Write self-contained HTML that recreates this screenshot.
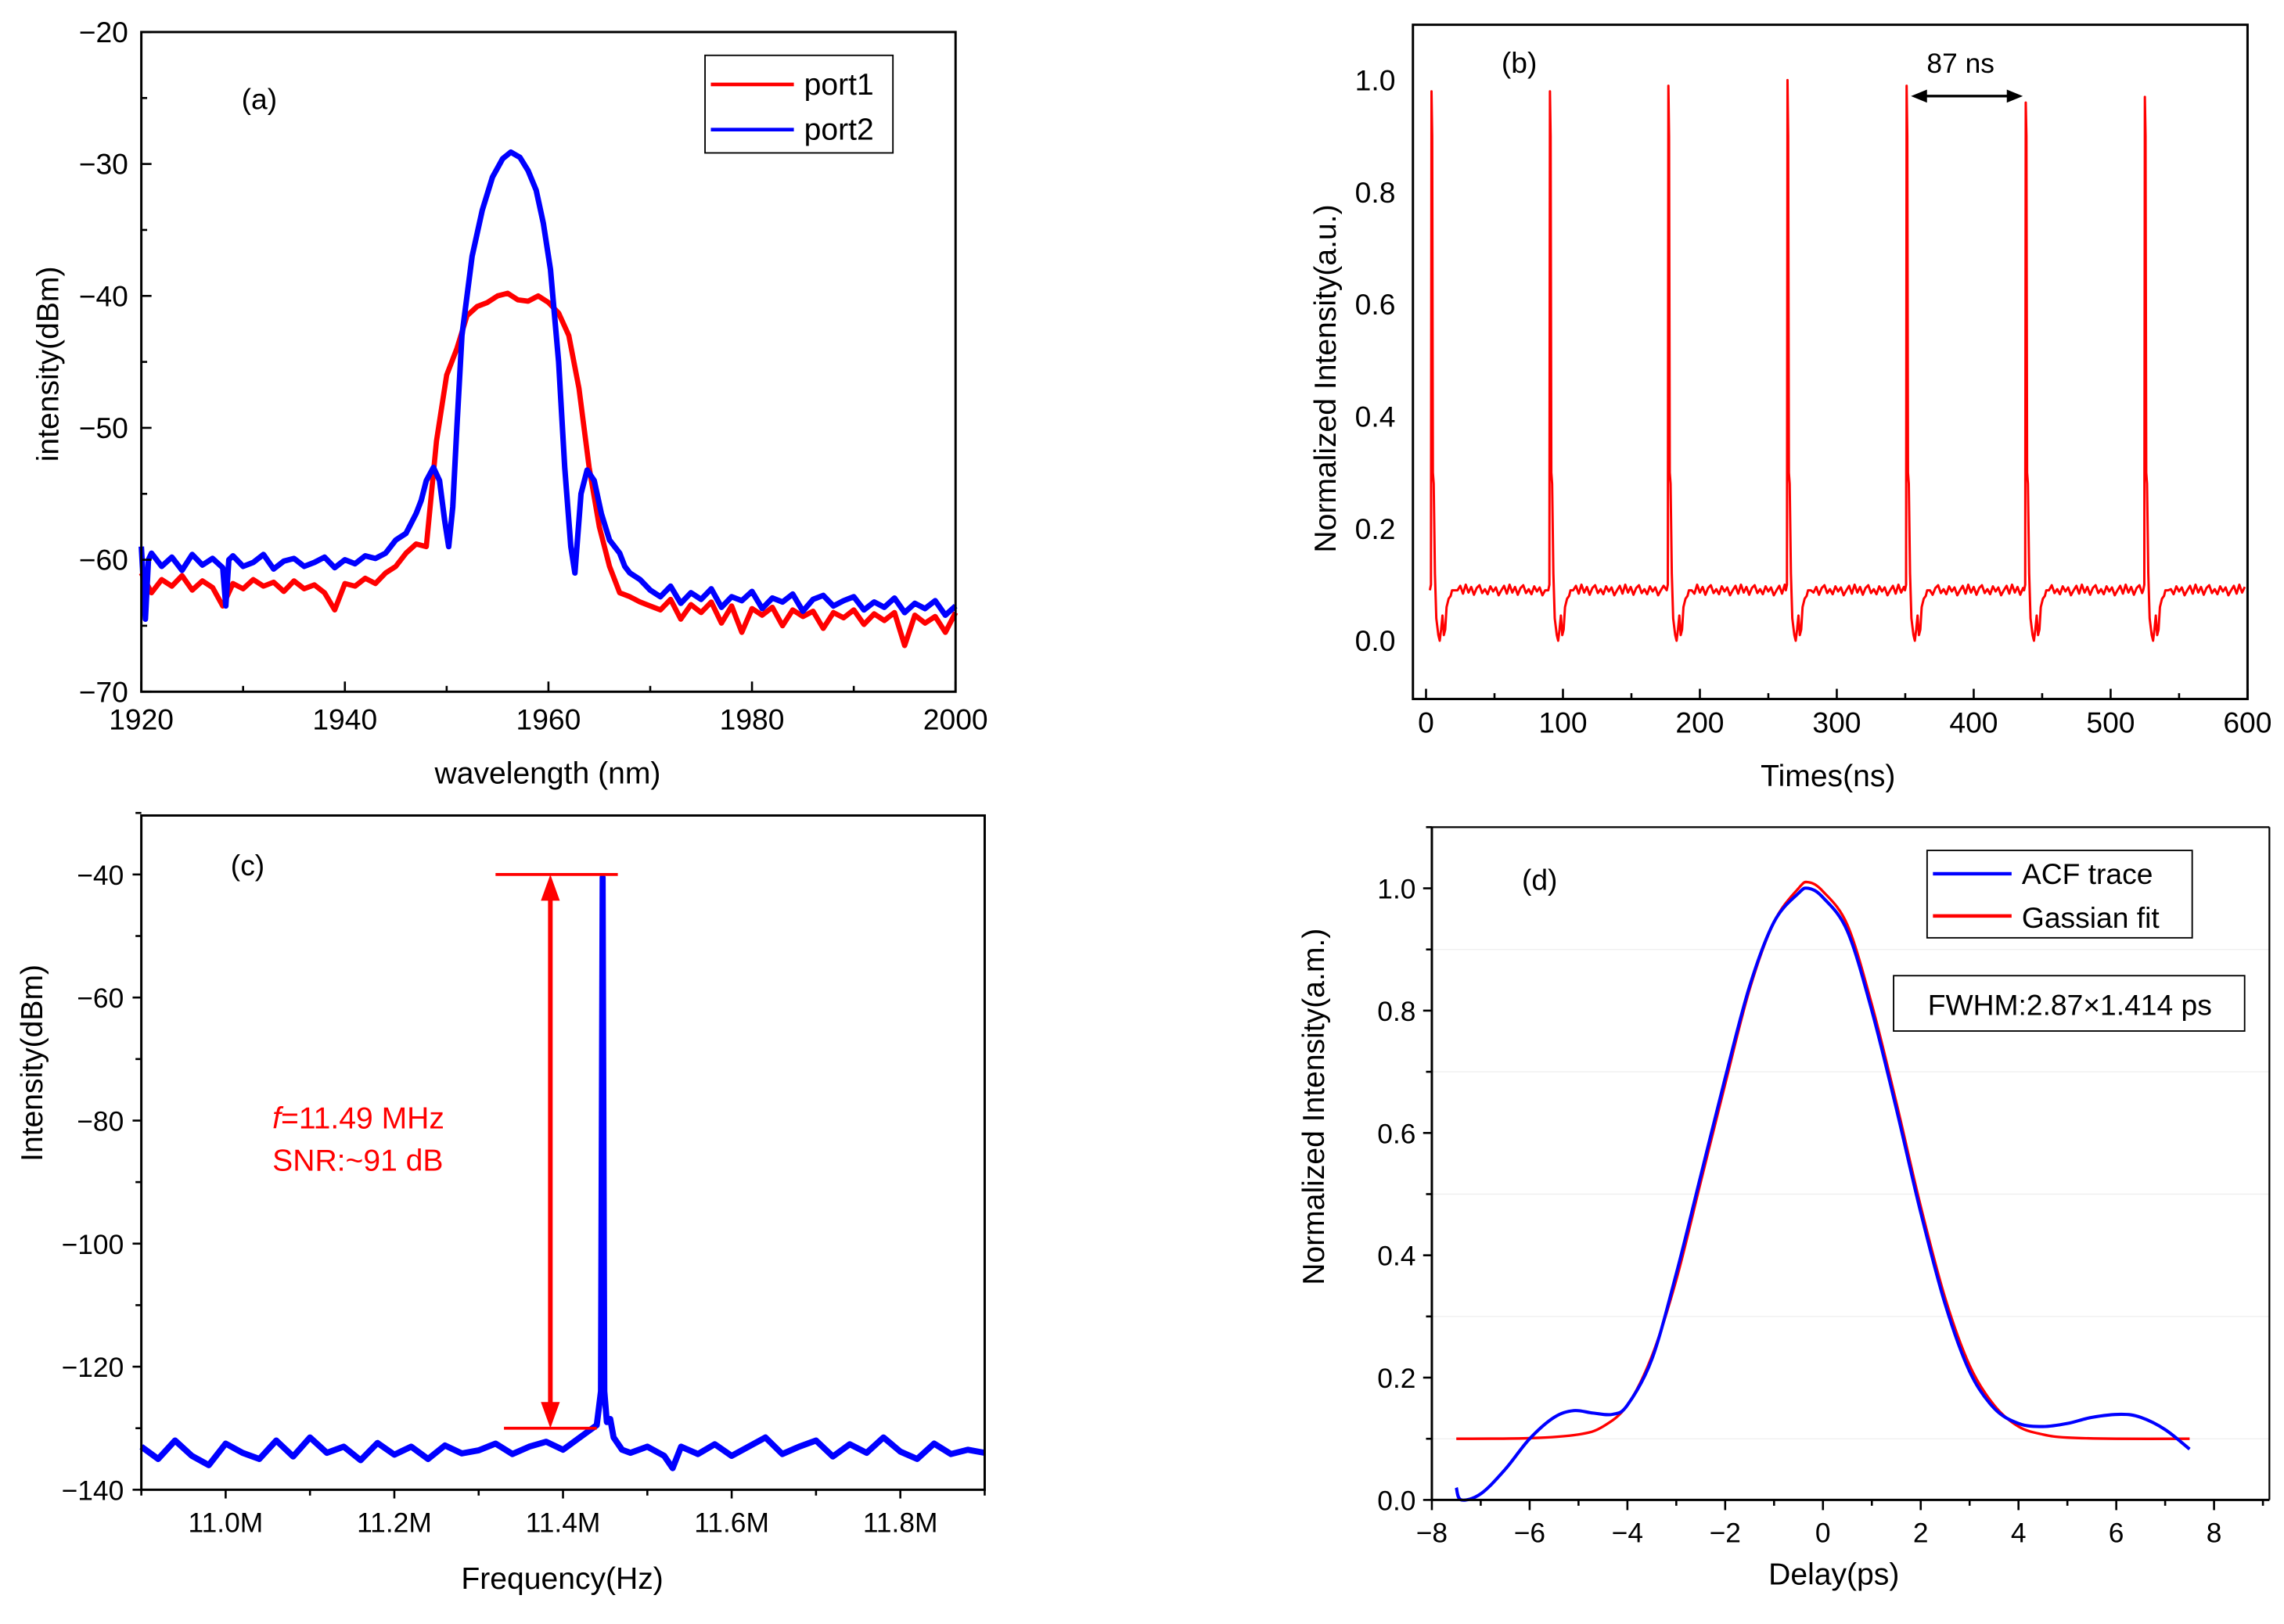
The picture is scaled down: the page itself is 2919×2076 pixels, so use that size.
<!DOCTYPE html>
<html><head><meta charset="utf-8"><style>
html,body{margin:0;padding:0;background:#fff}
svg{display:block;font-family:"Liberation Sans",Arial,sans-serif}
</style></head><body>
<svg id="fig" xmlns="http://www.w3.org/2000/svg" width="2919" height="2076" viewBox="0 0 1568 1115.2">
<rect width="1568" height="1115.2" fill="#fff"/>
</svg>
<script>
// ---------- Panel (a) data ----------
const port2Wl=[1920,1920.4,1920.7,1921,1922,1923,1924,1925,1926,1927,1928,1928.3,1928.6,1929,1930,1931,1932,1933,1934,1935,1936,1937,1938,1939,1940,1941,1942,1943,1944,1945,1946,1947,1947.5,1948,1948.7,1949.3,1949.8,1950.2,1950.6,1951,1951.5,1952.5,1953.5,1954.5,1955.5,1956.3,1957.2,1958,1958.8,1959.5,1960.2,1961,1961.6,1962.2,1962.6,1963.2,1963.8,1964.5,1965.2,1966,1966.5,1967,1967.5,1968,1969,1970,1971,1972,1973,1974,1975,1976,1977,1978,1979,1980,1981,1982,1983,1984,1985,1986,1987,1988,1989,1990,1991,1992,1993,1994,1995,1996,1997,1998,1999,2000];
const port2Db=[-59,-64.5,-60,-59.5,-60.5,-59.8,-60.8,-59.6,-60.4,-59.9,-60.6,-63.5,-60,-59.7,-60.5,-60.2,-59.6,-60.7,-60.1,-59.9,-60.5,-60.2,-59.8,-60.6,-60,-60.3,-59.7,-59.9,-59.5,-58.5,-58,-56.5,-55.5,-54,-53,-54,-57,-59,-56,-50,-43,-37,-33.5,-31,-29.6,-29.1,-29.5,-30.5,-32,-34.5,-38,-45,-53,-59,-61,-55,-53.2,-54,-56.5,-58.5,-59,-59.5,-60.5,-61,-61.5,-62.3,-62.8,-62,-63.3,-62.5,-63,-62.2,-63.6,-62.8,-63.1,-62.4,-63.7,-62.9,-63.2,-62.6,-63.9,-63,-62.7,-63.5,-63.1,-62.8,-63.8,-63.2,-63.6,-62.9,-64,-63.3,-63.7,-63.1,-64.2,-63.5];
const port1Wl=[1920,1921,1922,1923,1924,1925,1926,1927,1928,1929,1930,1931,1932,1933,1934,1935,1936,1937,1938,1939,1940,1941,1942,1943,1944,1945,1946,1947,1948,1949,1950,1951,1952,1953,1954,1955,1956,1957,1958,1959,1960,1961,1962,1963,1964,1965,1966,1967,1968,1969,1970,1971,1972,1973,1974,1975,1976,1977,1978,1979,1980,1981,1982,1983,1984,1985,1986,1987,1988,1989,1990,1991,1992,1993,1994,1995,1996,1997,1998,1999,2000];
const port1Db=[-61,-62.5,-61.5,-62,-61.2,-62.3,-61.6,-62.1,-63.5,-61.8,-62.2,-61.5,-62,-61.7,-62.4,-61.6,-62.2,-61.9,-62.5,-63.8,-61.8,-62,-61.4,-61.8,-61,-60.5,-59.5,-58.8,-59,-51,-46,-44,-41.5,-40.8,-40.5,-40,-39.8,-40.3,-40.4,-40,-40.5,-41.3,-43,-47,-53,-57.5,-60.5,-62.5,-62.8,-63.2,-63.5,-63.8,-63,-64.5,-63.4,-64,-63.2,-64.8,-63.5,-65.5,-63.7,-64.2,-63.6,-65,-63.8,-64.3,-63.9,-65.2,-64,-64.4,-63.8,-64.9,-64.1,-64.6,-64,-66.5,-64.2,-64.8,-64.3,-65.5,-64];
const aXTicks=[1920,1940,1960,1980,2000];
const aYTicks=[-20,-30,-40,-50,-60,-70];

// ---------- Panel (b) data ----------
const pulseTimes=[4,90.5,177,264,351,438,525];
const pulsePeaks=[0.98,0.98,0.99,1.0,0.99,0.96,0.97];
const tplDt=[-1.2,-0.4,0,0.5,1.0,1.6,2.5,3.5,5,6,7,8,9,10,11,12.5,14,15,17];
const tplVal=[0.09,0.1,1,0.9,0.3,0.28,0.12,0.04,0.01,0.0,0.02,0.045,0.01,0.02,0.06,0.075,0.08,0.09,0.09];
const baseNoise=[0,0.008,-0.006,0.01,-0.004,0.006,-0.008,0.004,0.009,-0.005,0.002,-0.007,0.007,-0.002,0.005,-0.009];
const bBaseline=0.09;
const bXTicks=[0,100,200,300,400,500,600];
const bYTicks=[0,0.2,0.4,0.6,0.8,1.0];

// ---------- Panel (c) data ----------
const cFreq=[10.9,10.92,10.94,10.96,10.98,11.0,11.02,11.04,11.06,11.08,11.1,11.12,11.14,11.16,11.18,11.2,11.22,11.24,11.26,11.28,11.3,11.32,11.34,11.36,11.38,11.4,11.42,11.43,11.44,11.445,11.447,11.449,11.452,11.456,11.46,11.47,11.48,11.5,11.52,11.53,11.54,11.56,11.58,11.6,11.62,11.64,11.66,11.68,11.7,11.72,11.74,11.76,11.78,11.8,11.82,11.84,11.86,11.88,11.9];
const cDb=[-133,-135,-132,-134.5,-136,-132.5,-134,-135,-132,-134.6,-131.5,-134,-133,-135.2,-132.4,-134.3,-133,-135,-132.8,-134.1,-133.6,-132.5,-134.2,-133,-132.2,-133.5,-131.5,-130.5,-129.5,-124,-40.5,-124,-129,-128.5,-131.5,-133.5,-134,-133,-134.5,-136.5,-133,-134.2,-132.6,-134.5,-133,-131.5,-134.2,-133,-132,-134.6,-132.6,-134,-131.5,-133.8,-135,-132.5,-134.2,-133.5,-134];
const cXTicks=[11.0,11.2,11.4,11.6,11.8];
const cYTicks=[-40,-60,-80,-100,-120,-140];
const cTopLevel=-40, cNoiseLevel=-130, cArrowFreq=11.385;

// ---------- Panel (d) data ----------
const acfX=[-7.5,-7.4,-7,-6.5,-6,-5.5,-5.1,-4.7,-4.3,-4,-3.5,-3,-2.5,-2,-1.5,-1,-0.5,-0.3,0,0.5,1,1.5,2,2.5,3,3.5,4,4.5,5,5.5,6.1,6.5,7,7.5];
const acfY=[0.02,0.0,0.01,0.05,0.1,0.135,0.146,0.142,0.14,0.155,0.23,0.37,0.53,0.69,0.84,0.945,0.992,1.0,0.985,0.93,0.8,0.64,0.47,0.32,0.21,0.15,0.125,0.12,0.125,0.135,0.14,0.135,0.115,0.083];
const fitX=[-7.5,-6,-5,-4.5,-4,-3.5,-3,-2.5,-2,-1.5,-1,-0.5,-0.3,0,0.5,1,1.5,2,2.5,3,3.5,4,4.5,5,6,7.5];
const fitY=[0.1,0.101,0.107,0.12,0.155,0.235,0.36,0.52,0.68,0.835,0.945,1.0,1.01,0.995,0.94,0.81,0.65,0.48,0.33,0.22,0.155,0.12,0.107,0.102,0.1,0.1];
const dXTicks=[-8,-6,-4,-2,0,2,4,6,8];
const dYTicks=[0,0.2,0.4,0.6,0.8,1.0];

// ---------- helpers ----------
const NS="http://www.w3.org/2000/svg";
const svg=document.getElementById('fig');
function mk(tag,attrs,parent){const e=document.createElementNS(NS,tag);for(const k in attrs)e.setAttribute(k,attrs[k]);(parent||svg).appendChild(e);return e;}
function txt(s,x,y,size,anchor,fill,parent){const t=mk('text',{x:x,y:y,'font-size':size,'text-anchor':anchor||'middle',fill:fill||'#000'},parent);t.textContent=s;return t;}
function lin(d0,d1,r0,r1){return v=>r0+(v-d0)*(r1-r0)/(d1-d0);}
function fmt(v,dec){let s=v.toFixed(dec);return s.replace('-','\u2212');}
function pathD(xs,ys,sx,sy){let d='';for(let i=0;i<Math.min(xs.length,ys.length);i++){d+=(i?'L':'M')+sx(xs[i]).toFixed(2)+','+sy(ys[i]).toFixed(2);}return d;}
function smoothD(xs,ys,sx,sy){const p=[];for(let i=0;i<Math.min(xs.length,ys.length);i++)p.push([sx(xs[i]),sy(ys[i])]);let d='M'+p[0][0]+','+p[0][1];for(let i=0;i<p.length-1;i++){const p0=p[i-1]||p[i],p1=p[i],p2=p[i+1],p3=p[i+2]||p2;const c1=[p1[0]+(p2[0]-p0[0])/6,p1[1]+(p2[1]-p0[1])/6],c2=[p2[0]-(p3[0]-p1[0])/6,p2[1]-(p3[1]-p1[1])/6];d+='C'+c1.join(',')+' '+c2.join(',')+' '+p2.join(',');}return d;}

function frame(g,L,T,R,B){const r=mk('rect',{x:L,y:T,width:R-L,height:B-T,fill:'none',stroke:'#000','stroke-width':1.6},g);}

// ================= Panel (a) =================
(function(){
const g=mk('g',{});
const L=97,R=656,T=22,B=475;
const sx=lin(1920,2000,L,R), sy=lin(-70,-20,B,T);
const red=mk('path',{d:pathD(port1Wl,port1Db,sx,sy),fill:'none',stroke:'#ff0000','stroke-width':3.6,'stroke-linejoin':'round'},g);

const blue=mk('path',{d:pathD(port2Wl,port2Db,sx,sy),fill:'none',stroke:'#0000ff','stroke-width':3.8,'stroke-linejoin':'round'},g);

frame(g,L,T,R,B);
for(let v=1920;v<=2000;v+=10){const x=sx(v);mk('line',{x1:x,y1:B,x2:x,y2:B-(v%20==0?7:4),stroke:'#000','stroke-width':1.4},g);}
for(let v=-70;v<=-20;v+=5){const y=sy(v);mk('line',{x1:L,y1:y,x2:L+(v%10==0?7:4),y2:y,stroke:'#000','stroke-width':1.4},g);}
aXTicks.forEach(v=>{const t=txt(String(v),sx(v),501,20,'middle','#000',g);});
aYTicks.forEach(v=>{const t=txt(fmt(v,0),88,sy(v)+7,20,'end','#000',g);});
const xt=txt('wavelength (nm)',376,538,21,'middle','#000',g);
const yt=txt('intensity(dBm)',0,0,21,'middle','#000',g);yt.setAttribute('transform','translate(40,250) rotate(-90)');
const pl=txt('(a)',178,75,20,'middle','#000',g);
const lg=mk('g',{},g);
mk('rect',{x:484,y:38,width:129,height:67,fill:'#fff',stroke:'#000','stroke-width':1},lg);
const e1=mk('line',{x1:488,y1:58,x2:545,y2:58,stroke:'#ff0000','stroke-width':2.5},lg);
txt('port1',552,65,21,'start','#000',lg);
const e2=mk('line',{x1:488,y1:89,x2:545,y2:89,stroke:'#0000ff','stroke-width':2.5},lg);
txt('port2',552,96,21,'start','#000',lg);
})();

// ================= Panel (b) =================
(function(){
const g=mk('g',{});
const L=970,R=1543,T=17,B=480;
const sx=lin(0,600,979,1543), sy=lin(0,1.0,440,55);
const xs=[],ys=[];let n=0;
for(let p=0;p<pulseTimes.length;p++){
  const t0=pulseTimes[p];
  for(let k=0;k<tplDt.length;k++){xs.push(t0+tplDt[k]);ys.push(k==2?pulsePeaks[p]:tplVal[k]);}
  const end=(p+1<pulseTimes.length?pulseTimes[p+1]:600)+tplDt[0];
  for(let t=t0+tplDt[tplDt.length-1]+2;t<end-0.5;t+=2){xs.push(t);ys.push(bBaseline+baseNoise[n++%baseNoise.length]);}
}
const line=mk('path',{d:pathD(xs,ys,sx,sy),fill:'none',stroke:'#ff0000','stroke-width':1.6,'stroke-linejoin':'round'},g);

frame(g,L,T,R,B);
for(let v=0;v<=600;v+=50){const x=sx(v);mk('line',{x1:x,y1:B,x2:x,y2:B-(v%100==0?7:4),stroke:'#000','stroke-width':1.4},g);}
bXTicks.forEach(v=>{const t=txt(String(v),sx(v),503,20,'middle','#000',g);});
bYTicks.forEach(v=>{const t=txt(v.toFixed(1),958,sy(v)+7,20,'end','#000',g);});
const xt=txt('Times(ns)',1255,540,21,'middle','#000',g);
const yt=txt('Normalized Intensity(a.u.)',0,0,21,'middle','#000',g);yt.setAttribute('transform','translate(917,260) rotate(-90)');
const pl=txt('(b)',1043,50,20,'middle','#000',g);
const ay=66;const x1=sx(pulseTimes[4])+3,x2=sx(pulseTimes[5])-2;
const ar=mk('g',{},g);
mk('line',{x1:x1+8,y1:ay,x2:x2-8,y2:ay,stroke:'#000','stroke-width':1.8},ar);
mk('polygon',{points:`${x1},${ay} ${x1+11},${ay-4.5} ${x1+11},${ay+4.5}`,fill:'#000'},ar);
mk('polygon',{points:`${x2},${ay} ${x2-11},${ay-4.5} ${x2-11},${ay+4.5}`,fill:'#000'},ar);
const lb=txt('87 ns',1346,50,19,'middle','#000',g);
})();

// ================= Panel (c) =================
(function(){
const g=mk('g',{});
const L=97,R=676,T=560,B=1023;
const sx=lin(10.9,11.9,L,R), sy=lin(-140,-40,B,600.5);
const line=mk('path',{d:pathD(cFreq,cDb,sx,sy),fill:'none',stroke:'#0000ff','stroke-width':4.2,'stroke-linejoin':'round'},g);

frame(g,L,T,R,B);
for(let v=10.9;v<=11.901;v+=0.1){const x=sx(v);mk('line',{x1:x,y1:B,x2:x,y2:B+(Math.round(v*10)%2==0?6:4),stroke:'#000','stroke-width':1.4},g);}
for(let v=-140;v<=-30;v+=10){const y=sy(v);mk('line',{x1:L,y1:y,x2:L-(v%20==0?6:4),y2:y,stroke:'#000','stroke-width':1.4},g);}
cXTicks.forEach(v=>{const t=txt(v.toFixed(1)+'M',sx(v),1052,19,'middle','#000',g);});
cYTicks.forEach(v=>{const t=txt(fmt(v,0),85,sy(v)+7,19,'end','#000',g);});
const xt=txt('Frequency(Hz)',386,1091,21,'middle','#000',g);
const yt=txt('Intensity(dBm)',0,0,21,'middle','#000',g);yt.setAttribute('transform','translate(29,730) rotate(-90)');
const pl=txt('(c)',170,601,20,'middle','#000',g);
const an=mk('g',{},g);
mk('line',{x1:sx(11.32),y1:sy(cTopLevel),x2:sx(11.465),y2:sy(cTopLevel),stroke:'#ff0000','stroke-width':2},an);
mk('line',{x1:sx(11.33),y1:sy(cNoiseLevel),x2:sx(11.44),y2:sy(cNoiseLevel),stroke:'#ff0000','stroke-width':2},an);
const ax=sx(cArrowFreq),yt0=sy(cTopLevel),yb0=sy(cNoiseLevel);
mk('line',{x1:ax,y1:yt0+14,x2:ax,y2:yb0-14,stroke:'#ff0000','stroke-width':3.2},an);
mk('polygon',{points:`${ax},${yt0} ${ax-6.5},${yt0+18} ${ax+6.5},${yt0+18}`,fill:'#ff0000'},an);
mk('polygon',{points:`${ax},${yb0} ${ax-6.5},${yb0-18} ${ax+6.5},${yb0-18}`,fill:'#ff0000'},an);
const t1=mk('text',{x:187,y:775,'font-size':21,fill:'#ff0000'},g);
const ti=mk('tspan',{'font-style':'italic'},t1);ti.textContent='f';const tr=mk('tspan',{},t1);tr.textContent='=11.49 MHz';
const t2=txt('SNR:~91 dB',187,804,21,'start','#ff0000',g);
})();

// ================= Panel (d) =================
(function(){
const g=mk('g',{});
const L=983,R=1558,T=568,B=1030;
const sx=lin(-8,8,983,1520), sy=lin(0,1.0,1030,610);
[0.1,0.3,0.5,0.7,0.9].forEach(v=>{const gl=mk('line',{x1:L,y1:sy(v),x2:R,y2:sy(v),stroke:'#f0f0f0','stroke-width':0.8},g);});
const fit=mk('path',{d:smoothD(fitX,fitY,sx,sy),fill:'none',stroke:'#ff0000','stroke-width':1.8},g);

const acf=mk('path',{d:smoothD(acfX,acfY,sx,sy),fill:'none',stroke:'#0000ff','stroke-width':2.2},g);

mk('line',{x1:L,y1:T,x2:L,y2:B,stroke:'#000','stroke-width':1.6},g);
mk('line',{x1:L,y1:B,x2:R,y2:B,stroke:'#000','stroke-width':1.6},g);
mk('line',{x1:L,y1:T,x2:R,y2:T,stroke:'#000','stroke-width':1.2},g);
mk('line',{x1:R,y1:T,x2:R,y2:B,stroke:'#000','stroke-width':1.2},g);
for(let v=-8;v<=9;v+=1){const x=sx(v);mk('line',{x1:x,y1:B,x2:x,y2:B+(v%2==0?7:4),stroke:'#000','stroke-width':1.4},g);}
for(let v=0;v<=1.1001;v+=0.1){const y=sy(v);mk('line',{x1:L,y1:y,x2:L-(Math.round(v*10)%2==0?6:4),y2:y,stroke:'#000','stroke-width':1.4},g);}
dXTicks.forEach(v=>{const t=txt(fmt(v,0),sx(v),1059,19,'middle','#000',g);});
dYTicks.forEach(v=>{const t=txt(v.toFixed(1),972,sy(v)+7,19,'end','#000',g);});
const xt=txt('Delay(ps)',1259,1088,21,'middle','#000',g);
const yt=txt('Normalized Intensity(a.m.)',0,0,21,'middle','#000',g);yt.setAttribute('transform','translate(909,760) rotate(-90)');
const pl=txt('(d)',1057,611,20,'middle','#000',g);
const lg=mk('g',{},g);
mk('rect',{x:1323,y:584,width:182,height:60,fill:'#fff',stroke:'#000','stroke-width':1},lg);
const e1=mk('line',{x1:1327,y1:600,x2:1381,y2:600,stroke:'#0000ff','stroke-width':2.4},lg);
txt('ACF trace',1388,607,20,'start','#000',lg);
const e2=mk('line',{x1:1327,y1:629,x2:1381,y2:629,stroke:'#ff0000','stroke-width':2.4},lg);
txt('Gassian fit',1388,637,20,'start','#000',lg);
const fb=mk('g',{},g);
mk('rect',{x:1300,y:670,width:241,height:38,fill:'#fff',stroke:'#000','stroke-width':1},fb);
txt('FWHM:2.87\u00d71.414 ps',1421,697,20,'middle','#000',fb);
})();
</script>
</body></html>
